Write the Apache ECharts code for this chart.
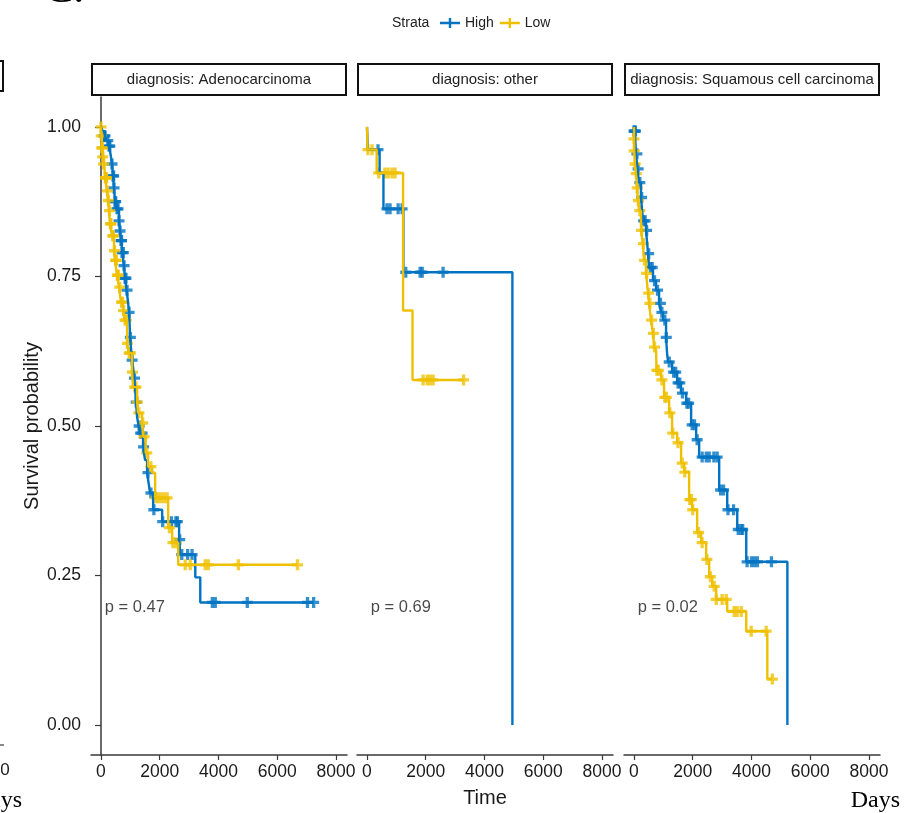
<!DOCTYPE html>
<html><head><meta charset="utf-8">
<script src="https://cdn.jsdelivr.net/npm/echarts@6/dist/echarts.min.js"></script>
<style>html,body{margin:0;padding:0;background:#fff}#c{width:904px;height:813px}</style>
</head><body><div id="c"></div>
<script>
// ---- data ----
const panels = ['diagnosis: Adenocarcinoma', 'diagnosis: other', 'diagnosis: Squamous cell carcinoma'];
const pValues = ['p = 0.47', 'p = 0.69', 'p = 0.02'];
const strata = ['High', 'Low'];
const xTicks = [0, 2000, 4000, 6000, 8000];
const yTicks = [0, 0.25, 0.5, 0.75, 1];

// Adenocarcinoma
const highAdeno = [[0,1],[60,0.993],[137,0.985],[200,0.977],[273,0.968],[330,0.953],[375,0.938],[410,0.918],[444,0.898],[478,0.875],[520,0.863],[614,0.843],[650,0.826],[683,0.81],[730,0.79],[780,0.768],[819,0.747],[870,0.727],[920,0.708],[956,0.69],[975,0.67],[990,0.648],[1030,0.625],[1092,0.598],[1130,0.58],[1160,0.565],[1190,0.54],[1229,0.515],[1280,0.5],[1331,0.488],[1433,0.465],[1500,0.443],[1570,0.422],[1620,0.405],[1672,0.388],[1775,0.36],[2082,0.34],[2660,0.31],[2700,0.285],[3210,0.247],[3380,0.205],[7240,0.205]];
const highAdenoCens = [[100,0.985],[137,0.985],[230,0.977],[273,0.968],[300,0.968],[375,0.938],[410,0.918],[430,0.918],[444,0.898],[478,0.875],[500,0.875],[546,0.863],[580,0.863],[614,0.843],[648,0.826],[683,0.81],[700,0.81],[717,0.79],[760,0.79],[785,0.768],[819,0.747],[850,0.747],[887,0.727],[956,0.69],[1000,0.648],[1060,0.61],[1140,0.58],[1200,0.54],[1300,0.5],[1350,0.488],[1400,0.488],[1450,0.465],[1600,0.422],[1700,0.388],[1800,0.36],[2100,0.34],[2400,0.34],[2550,0.34],[2600,0.34],[2680,0.31],[2750,0.285],[2950,0.285],[3100,0.285],[3790,0.205],[3890,0.205],[4980,0.205],[7030,0.205],[7240,0.205]];
const lowAdeno = [[0,1],[20,0.985],[50,0.965],[80,0.95],[110,0.938],[137,0.915],[205,0.893],[240,0.877],[273,0.86],[307,0.838],[375,0.818],[444,0.793],[478,0.777],[546,0.752],[614,0.732],[680,0.707],[751,0.693],[800,0.677],[887,0.638],[940,0.622],[1058,0.59],[1092,0.565],[1229,0.54],[1263,0.522],[1399,0.505],[1433,0.482],[1520,0.455],[1604,0.432],[1741,0.422],[1843,0.38],[2287,0.33],[2423,0.305],[2628,0.268],[6690,0.268]];
const lowAdenoCens = [[0,1],[10,0.985],[30,0.965],[40,0.965],[60,0.95],[90,0.938],[150,0.915],[170,0.915],[190,0.915],[220,0.893],[250,0.877],[290,0.86],[320,0.838],[340,0.838],[400,0.818],[420,0.818],[460,0.793],[500,0.777],[520,0.777],[560,0.752],[590,0.752],[640,0.732],[700,0.707],[730,0.707],[770,0.693],[820,0.677],[860,0.677],[900,0.638],[960,0.622],[1000,0.622],[1070,0.59],[1150,0.565],[1190,0.565],[1240,0.54],[1290,0.522],[1420,0.505],[1460,0.482],[1560,0.455],[1700,0.432],[1870,0.38],[1950,0.38],[2050,0.38],[2150,0.38],[2250,0.38],[2330,0.33],[2450,0.305],[2550,0.305],[2867,0.268],[3038,0.268],[3550,0.268],[3652,0.268],[4676,0.268],[6690,0.268]];

// other
const highOther = [[0,1],[30,0.962],[430,0.923],[560,0.863],[1240,0.757],[4950,0]];
const highOtherCens = [[375,0.962],[680,0.863],[785,0.863],[1060,0.863],[1195,0.863],[1320,0.757],[1810,0.757],[1880,0.757],[2590,0.757]];
const lowOther = [[0,1],[20,0.962],[330,0.923],[1229,0.693],[1550,0.577],[3290,0.577]];
const lowOtherCens = [[30,0.962],[170,0.962],[400,0.923],[610,0.923],[720,0.923],[850,0.923],[955,0.923],[1910,0.577],[2050,0.577],[2150,0.577],[2250,0.577],[3290,0.577]];

// Squamous cell carcinoma
const highSquam = [[0,1],[30,0.993],[68,0.955],[120,0.93],[170,0.907],[239,0.882],[307,0.843],[410,0.827],[450,0.805],[478,0.788],[512,0.765],[648,0.743],[751,0.727],[853,0.705],[920,0.69],[990,0.677],[1092,0.648],[1126,0.622],[1160,0.607],[1300,0.59],[1468,0.572],[1600,0.555],[1775,0.538],[1945,0.502],[2116,0.477],[2218,0.448],[2900,0.393],[3174,0.36],[3515,0.327],[3822,0.273],[5222,0.273],[5222,0]];
const highSquamCens = [[0,0.993],[20,0.993],[50,0.993],[100,0.955],[140,0.93],[200,0.907],[260,0.882],[330,0.843],[380,0.843],[430,0.827],[500,0.788],[560,0.765],[620,0.765],[700,0.743],[800,0.727],[900,0.705],[950,0.69],[1050,0.677],[1100,0.648],[1200,0.607],[1350,0.59],[1420,0.59],[1500,0.572],[1560,0.572],[1650,0.555],[1800,0.538],[1860,0.538],[1980,0.502],[2060,0.502],[2150,0.477],[2320,0.448],[2460,0.448],[2560,0.448],[2720,0.448],[2830,0.448],[2950,0.393],[3050,0.393],[3200,0.36],[3390,0.36],[3550,0.327],[3650,0.327],[3700,0.327],[3850,0.273],[4000,0.273],[4100,0.273],[4200,0.273],[4680,0.273]];
const lowSquam = [[0,1],[10,0.96],[30,0.938],[68,0.922],[100,0.898],[137,0.877],[170,0.86],[239,0.827],[300,0.805],[341,0.777],[410,0.755],[478,0.722],[512,0.705],[580,0.677],[648,0.655],[683,0.632],[751,0.627],[770,0.593],[922,0.577],[1024,0.548],[1195,0.522],[1297,0.488],[1468,0.472],[1604,0.438],[1707,0.423],[1877,0.377],[1980,0.36],[2150,0.322],[2287,0.305],[2457,0.277],[2560,0.248],[2662,0.232],[2799,0.21],[3174,0.19],[3822,0.157],[4539,0.077],[4710,0.077]];
const lowSquamCens = [[0,0.98],[10,0.96],[40,0.938],[80,0.922],[110,0.898],[150,0.877],[200,0.86],[260,0.827],[320,0.805],[360,0.777],[430,0.755],[500,0.722],[540,0.705],[600,0.677],[660,0.655],[700,0.632],[780,0.593],[830,0.593],[950,0.577],[1050,0.548],[1100,0.548],[1220,0.522],[1320,0.488],[1500,0.472],[1640,0.438],[1730,0.423],[1900,0.377],[1950,0.377],[2000,0.36],[2200,0.322],[2320,0.305],[2480,0.277],[2600,0.248],[2730,0.232],[2800,0.21],[3000,0.21],[3140,0.21],[3410,0.19],[3510,0.19],[3650,0.19],[3990,0.157],[4500,0.157],[4710,0.077]];

const pCoord = [130, 0.197];

// ---- chart ----
const COL = {High: '#0073C2', Low: '#EFC000'};
const FONT = '"Liberation Sans", Arial, sans-serif';
const CROSS = 'path://M0,3.5H10V6.5H0Z M3.5,0H6.5V10H3.5Z';
const LEGICON = 'path://M0,3.8H20V6.2H0Z M8.8,0H11.2V10H8.8Z';
const AXC = '#3a3a3a';
const TXT = '#1a1a1a';

const curves = [
  {High: highAdeno, HighC: highAdenoCens, Low: lowAdeno, LowC: lowAdenoCens},
  {High: highOther, HighC: highOtherCens, Low: lowOther, LowC: lowOtherCens},
  {High: highSquam, HighC: highSquamCens, Low: lowSquam, LowC: lowSquamCens}
];
const lefts = [91, 357, 624];
const PW = 256, TOP = 97, PH = 658;

const grid = lefts.map(l => ({left: l, top: TOP, width: PW, height: PH}));
const xAxis = lefts.map((l, i) => ({
  type: 'value', gridIndex: i, min: -340, max: 8375,
  name: i === 1 ? 'Time' : '', nameLocation: 'middle', nameGap: 33,
  nameTextStyle: {fontSize: 20, color: TXT, fontFamily: FONT},
  axisLine: {show: true, onZero: false, lineStyle: {color: AXC, width: 1.5}},
  axisTick: {show: true, length: 5, customValues: xTicks, lineStyle: {color: AXC, width: 1.2}},
  axisLabel: {customValues: xTicks, fontSize: 17.5, color: TXT, margin: 8, fontFamily: FONT,
    formatter: v => String(Math.round(v))},
  splitLine: {show: false}
}));
const yAxis = lefts.map((l, i) => ({
  type: 'value', gridIndex: i, min: -0.05, max: 1.05, show: i === 0,
  name: i === 0 ? 'Survival probability' : '', nameLocation: 'middle', nameGap: 49,
  nameTextStyle: {fontSize: 20, color: TXT, fontFamily: FONT},
  axisLine: {show: true, lineStyle: {color: AXC, width: 1.5}},
  axisTick: {show: true, length: 6, customValues: yTicks, lineStyle: {color: AXC, width: 1.2}},
  axisLabel: {customValues: yTicks, fontSize: 17.5, color: TXT, margin: 10, fontFamily: FONT,
    formatter: v => v.toFixed(2)},
  splitLine: {show: false}
}));

const series = [];
curves.forEach((c, i) => {
  strata.forEach(s => series.push({
    type: 'line', name: s, xAxisIndex: i, yAxisIndex: i, data: c[s], step: 'end',
    showSymbol: false, symbol: 'none', lineStyle: {color: COL[s], width: 2.4},
    itemStyle: {color: COL[s]}, animation: false, silent: true
  }));
  strata.forEach(s => series.push({
    type: 'scatter', name: s, xAxisIndex: i, yAxisIndex: i, data: c[s + 'C'],
    symbol: CROSS, symbolSize: 11, itemStyle: {color: COL[s]}, animation: false, silent: true
  }));
  series.push({
    type: 'scatter', xAxisIndex: i, yAxisIndex: i, data: [pCoord], symbolSize: 0,
    silent: true, animation: false,
    label: {show: true, position: 'right', distance: 0, formatter: pValues[i],
      fontSize: 16.5, color: TXT, fontFamily: FONT}
  });
});

const graphic = [];
lefts.forEach((l, i) => {
  graphic.push({type: 'rect', shape: {x: l + 1, y: 64, width: PW - 2, height: 31},
    style: {fill: '#fff', stroke: '#111', lineWidth: 2}});
  graphic.push({type: 'text', x: l + PW / 2, y: 80,
    style: {text: panels[i], fontSize: 15, fill: '#222', fontFamily: FONT, align: 'center', verticalAlign: 'middle'}});
});
graphic.push({type: 'text', x: 392, y: 23, style: {text: 'Strata', fontSize: 14, fill: '#222', fontFamily: FONT, verticalAlign: 'middle'}});
// cropped fragments of neighbouring figure
graphic.push({type: 'text', x: 44, y: 12, style: {text: 'C.', fontSize: 44, fill: '#000', fontFamily: '"Liberation Serif", serif', verticalAlign: 'bottom'}});
graphic.push({type: 'rect', shape: {x: -12, y: 61, width: 15, height: 30}, style: {fill: 'none', stroke: '#111', lineWidth: 2}});
graphic.push({type: 'line', shape: {x1: 0, y1: 745, x2: 4, y2: 745}, style: {stroke: AXC, lineWidth: 1.2}});
graphic.push({type: 'text', x: 5, y: 770, style: {text: '0', fontSize: 17, fill: TXT, fontFamily: FONT, align: 'center', verticalAlign: 'middle'}});
graphic.push({type: 'text', x: 22, y: 801, style: {text: 'Days', fontSize: 24, fill: '#000', fontFamily: '"Liberation Serif", serif', align: 'right', verticalAlign: 'middle'}});
graphic.push({type: 'text', x: 900, y: 801, style: {text: 'Days', fontSize: 24, fill: '#000', fontFamily: '"Liberation Serif", serif', align: 'right', verticalAlign: 'middle'}});

const chart = echarts.init(document.getElementById('c'), null, {renderer: 'canvas'});
chart.setOption({
  backgroundColor: '#fff',
  animation: false,
  legend: {
    left: 440, top: 16, itemWidth: 20, itemHeight: 10, itemGap: 6, padding: 0,
    selectedMode: false,
    data: strata.map(s => ({name: s, icon: LEGICON})),
    textStyle: {fontSize: 14, color: '#222', fontFamily: FONT}
  },
  grid, xAxis, yAxis, series, graphic
});
</script></body></html>
